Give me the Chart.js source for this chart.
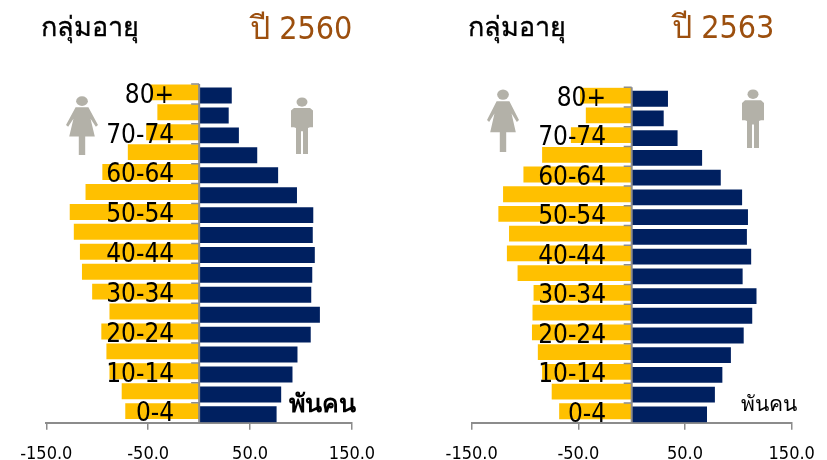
<!DOCTYPE html>
<html><head><meta charset="utf-8">
<script src="https://cdn.jsdelivr.net/npm/chart.js@4"></script>
<style>
html,body{margin:0;padding:0;background:#fff;width:827px;height:460px;overflow:hidden}
canvas{position:absolute;top:0}
.t{position:absolute;white-space:nowrap;font-family:"DejaVu Sans Condensed","DejaVu Sans","Noto Sans",sans-serif;line-height:1}
.s{-webkit-text-stroke:.35px currentColor}
svg.ic{position:absolute;filter:blur(.6px)}
</style></head><body>
<canvas id="c1" style="left:0" width="413" height="460"></canvas>
<canvas id="c2" style="left:413px" width="414" height="460"></canvas>
<div class="t s" style="left:41px;top:13px;font-size:27px;color:#000">กลุ่มอายุ</div>
<div class="t" style="left:250px;top:12px;font-size:32px;color:#9C4F0E">ปี 2560</div>
<div class="t s" style="left:468px;top:13px;font-size:27px;color:#000">กลุ่มอายุ</div>
<div class="t" style="left:672px;top:11px;font-size:32px;color:#9C4F0E">ปี 2563</div>
<div class="t" style="left:289px;top:391px;font-size:25px;font-weight:bold;color:#000">พันคน</div>
<div class="t" style="left:741px;top:394px;font-size:21px;color:#000">พันคน</div>
<svg width="0" height="0" style="position:absolute"><defs>
<g id="fem" fill="#b3b1a8"><circle cx="15" cy="7" r="5.5"/><path d="M9 14h12l9 20-2 2-5-9 4 20h-9v21h-6V47H3l4-20-5 9-2-2z"/></g>
<g id="mal" fill="#b3b1a8"><circle cx="11" cy="6" r="5.5"/><path d="M3 13h16l3 3v20h-3l-2 1v31h-5V41h-2v27H5V37l-2-1H0V16z"/></g>
</defs></svg>
<svg class="ic" style="left:66px;top:95px" width="32" height="60" viewBox="0 0 30 68" preserveAspectRatio="none"><use href="#fem"/></svg>
<svg class="ic" style="left:291px;top:97px" width="22" height="57" viewBox="0 0 22 68" preserveAspectRatio="none"><use href="#mal"/></svg>
<svg class="ic" style="left:487px;top:88px" width="32" height="64" viewBox="0 0 30 68" preserveAspectRatio="none"><use href="#fem"/></svg>
<svg class="ic" style="left:742px;top:89px" width="22" height="59" viewBox="0 0 22 68" preserveAspectRatio="none"><use href="#mal"/></svg>
<script>
const ageGroups=["80+","75-79","70-74","65-69","60-64","55-59","50-54","45-49","40-44","35-39","30-34","25-29","20-24","15-19","10-14","5-9","0-4"];
const shownAgeLabels=["80+","70-74","60-64","50-54","40-44","30-34","20-24","10-14","0-4"];
const female2560=[-48,-41,-52,-70,-95,-111.5,-127,-123,-117,-115,-105,-88,-96,-91,-88,-76,-72.5];
const male2560=[32,29,39,57,77.5,96,112,111.5,113.5,111,110,118.5,109.5,96.5,91.6,80.5,76];
const female2563=[-48.5,-43,-57,-84,-101.5,-120.6,-125,-115,-117,-107,-92,-93,-93.5,-88,-84,-75,-68];
const male2563=[34,30,43,66,83.5,103.5,109,108,112,104,117,113,105,93,85,78,70.6];
const axisFont='"DejaVu Sans Condensed","DejaVu Sans",sans-serif';
const axisGrey='#8c8c8c';
const ageAxisMarks={id:'ageAxisMarks',afterDatasetsDraw(chart){
 const {ctx,scales:{x,y}}=chart, zero=x.getPixelForValue(0), step=y.getPixelForValue(1)-y.getPixelForValue(0);
 ctx.save();ctx.strokeStyle=axisGrey;ctx.lineWidth=1.5;ctx.beginPath();
 ageGroups.forEach((g,i)=>{const p=y.getPixelForValue(i)-step/2;ctx.moveTo(zero-8,p);ctx.lineTo(zero,p);});
 ctx.stroke();ctx.lineWidth=2;ctx.beginPath();ctx.moveTo(zero,y.top);ctx.lineTo(zero,y.bottom);ctx.stroke();ctx.restore();
}};
function pyramid(id,female,male,box,w,labelAt){
 new Chart(document.getElementById(id),{type:'bar',plugins:[ageAxisMarks],
  data:{labels:ageGroups,datasets:[
   {label:'หญิง',data:female,backgroundColor:'#FFC000',borderWidth:0},
   {label:'ชาย',data:male,backgroundColor:'#002060',borderWidth:0}]},
  options:{indexAxis:'y',responsive:false,animation:false,
   categoryPercentage:0.32,barPercentage:5,
   layout:{padding:{left:box.left,right:w-box.right,top:box.top,bottom:0}},
   plugins:{legend:{display:false},title:{display:false},tooltip:{enabled:false}},
   scales:{
    x:{type:'linear',min:-150,max:150,
     afterFit(s){s.height=460-box.bottom;s.paddingLeft=0;s.paddingRight=0},
     ticks:{stepSize:100,maxRotation:0,autoSkip:false,padding:14,color:'#000',font:{family:axisFont,size:18},callback:v=>v.toFixed(1)},
     grid:{drawOnChartArea:false,tickLength:7,color:axisGrey,lineWidth:1.5,tickColor:axisGrey,tickWidth:1.5},
     border:{color:axisGrey,width:2}},
    y:{type:'category',position:{x:labelAt},offset:true,
     ticks:{z:2,autoSkip:false,labelOffset:2,color:'#000',font:{family:axisFont,size:26},
      callback(v){const l=this.getLabelForValue(v);return shownAgeLabels.includes(l)?l:''}},
     grid:{display:false},
     border:{display:false}}
   }}});
}
pyramid('c1',female2560,male2560,{left:46.3,right:352,top:84,bottom:422.7},413,-24.5);
pyramid('c2',female2563,male2563,{left:58.7,right:378.7,top:87.3,bottom:422.7},414,-24);
</script>
</body></html>
